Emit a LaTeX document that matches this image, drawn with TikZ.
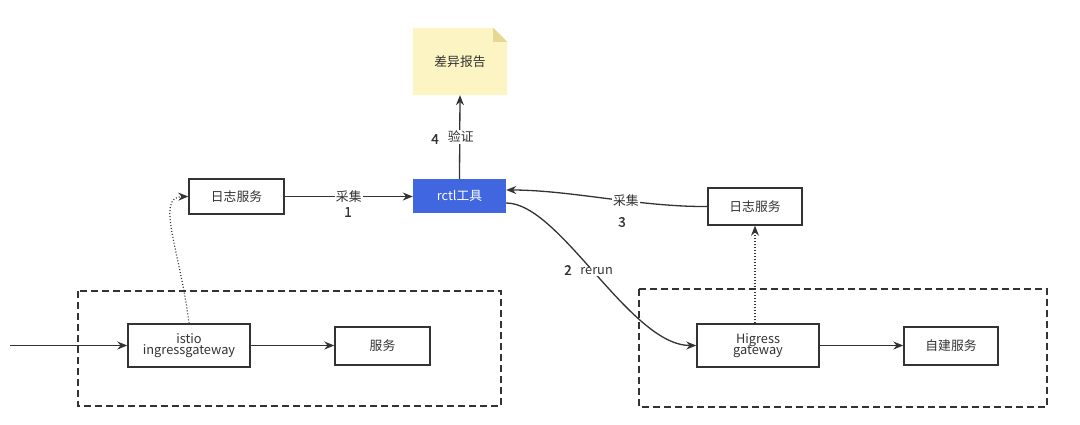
\documentclass[tikz,border=0pt]{standalone}
\usepackage{fontspec}
\setmainfont{Noto Sans CJK SC}
\usetikzlibrary{arrows.meta,backgrounds}
\definecolor{ln}{HTML}{333333}
\definecolor{txt}{HTML}{333333}
\definecolor{rblue}{HTML}{4066E0}
\definecolor{noteY}{HTML}{FCF4C2}
\definecolor{noteF}{HTML}{E6D892}
\begin{document}
\begin{tikzpicture}[x=1pt,y=-1pt,
  every node/.style={font=\fontsize{12.8}{14}\selectfont, text=txt},
  box/.style={draw=ln, line width=1.4pt, fill=white, inner sep=0pt, align=center},
  conn/.style={draw=ln, line width=1.3pt, -{Stealth[length=10pt,width=8pt]}},
  dotconn/.style={draw=ln, line width=1.2pt, dash pattern=on 1pt off 2pt, -{Stealth[length=10pt,width=8pt]}},
  group/.style={draw=ln, line width=1.3pt, dash pattern=on 7pt off 4pt},
  lbl/.style={fill=white, inner sep=1pt},
  num/.style={inner sep=1pt, font=\fontsize{13.5}{15}\selectfont\addfontfeature{FakeBold=1.2}}]
\useasboundingbox (0,0) rectangle (1080,424);
% groups
\draw[group] (78,291) rectangle (501,406);
\draw[group] (639,289) rectangle (1047,407);
% nodes
\node[inner sep=0pt, minimum width=94pt, minimum height=67pt] (rep) at (460,61.5) {差异报告};
\begin{pgfonlayer}{background}
\fill[noteY] (rep.north west) -- ([xshift=-14pt]rep.north east) -- ([yshift=-14pt]rep.north east) -- (rep.south east) -- (rep.south west) -- cycle;
\fill[noteF] ([xshift=-14pt]rep.north east) -- ([yshift=-14pt]rep.north east) -- ([xshift=-14pt,yshift=-14pt]rep.north east) -- cycle;
\end{pgfonlayer}
\node[fill=rblue, inner sep=0pt, minimum width=93pt, minimum height=34pt, text=white] (rctl) at (459.5,196) {rctl工具};
\node[box, minimum width=95pt, minimum height=35pt] (logL) at (236.5,196.5) {日志服务};
\node[box, minimum width=94pt, minimum height=37pt] (logR) at (755,206.5) {日志服务};
\node[box, minimum width=122pt, minimum height=43pt] (istio) at (189,345.5) {istio\\[-3pt]ingressgateway};
\node[box, minimum width=95pt, minimum height=38pt] (svc) at (382.5,346) {服务};
\node[box, minimum width=122pt, minimum height=43pt] (hig) at (758,345.5) {Higress\\[-3pt]gateway};
\node[box, minimum width=94pt, minimum height=38pt] (self) at (951,346) {自建服务};
\coordinate (in) at (10,345.5);
% connectors
\draw[conn] (in) -- (istio.west);
\draw[conn] (istio.east) -- (svc.west |- istio.east);
\draw[conn] (hig.east) -- (self.west |- hig.east);
\draw[conn] (logL.east) -- node[lbl] {采集} (rctl.west |- logL.east);
\node[num] (n1) at (348,212) {1};
\draw[conn] (rctl.north) -- node[lbl, xshift=1pt] {验证} (rep.south);
\node[num] (n4) at (435,139) {4};
\draw[conn] (logR.west) .. controls (640,207) and (570,190) .. ([yshift=6pt]rctl.east) node[pos=0.4, lbl] {采集};
\node[num] (n3) at (622,222) {3};
\draw[conn] ([yshift=-7pt]rctl.east) .. controls (560,203) and (630,345.5) .. (hig.west) node[pos=0.5, lbl, yshift=3pt] {rerun};
\node[num] (n2) at (568,270) {2};
\draw[dotconn] (istio.north) .. controls (180,250) and (155,197) .. (logL.west);
\draw[dotconn] (hig.north -| logR.south) -- (logR.south);
\end{tikzpicture}
\end{document}
